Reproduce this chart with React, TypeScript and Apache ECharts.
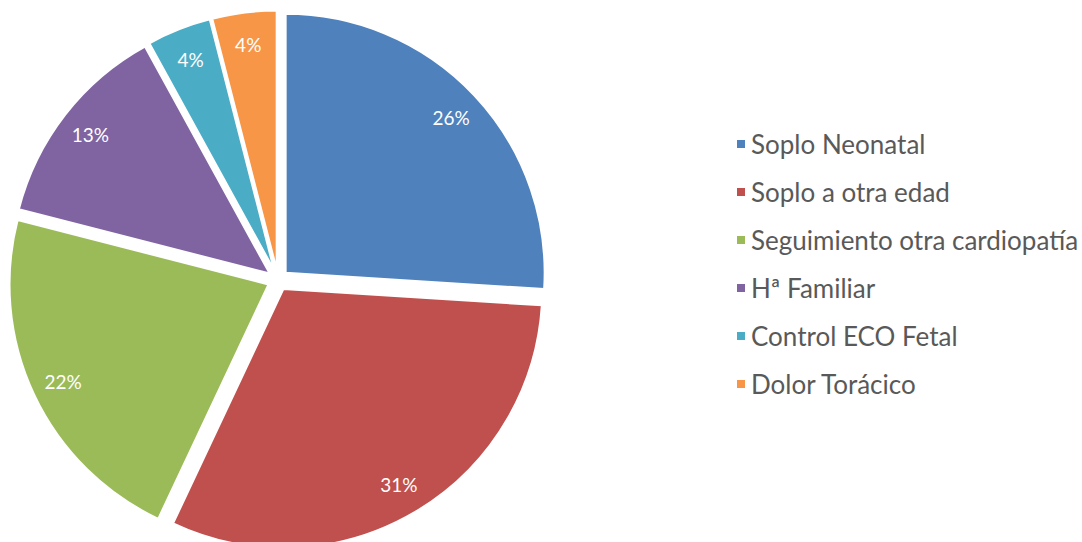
import React, { useEffect, useRef } from "react";
import * as echarts from "echarts";

const categories = [
  "Soplo Neonatal",
  "Soplo a otra edad",
  "Seguimiento otra cardiopatía",
  "Hª Familiar",
  "Control ECO Fetal",
  "Dolor Torácico",
];
const percentages = [26, 31, 22, 13, 4, 4];
const colors = ["#4F81BD", "#C0504D", "#9BBB59", "#8064A2", "#4BACC6", "#F79646"];

const CENTER = [278, 280];
const R = 259;
const OFFSET = 10.5;
const FONT = "Lato, 'Liberation Sans', sans-serif";

export default function App() {
  const ref = useRef<HTMLDivElement>(null);
  useEffect(() => {
    if (!ref.current) return;
    const chart = echarts.init(ref.current, null, { renderer: "svg" });
    const pieData = categories.map((name, i) => ({
      name,
      value: percentages[i],
      selected: true,
      itemStyle: { color: colors[i] },
    }));
    const labelData = categories.map((name, i) => ({
      name,
      value: percentages[i],
      selected: true,
    }));
    chart.setOption({
      animation: false,
      legend: {
        orient: "vertical",
        left: 730,
        top: 124,
        icon: "rect",
        itemWidth: 10,
        itemHeight: 10,
        itemGap: 18,
        selectedMode: false,
        data: categories.map((name, i) => ({ name, itemStyle: { color: colors[i] } })),
        textStyle: {
          fontFamily: FONT,
          fontSize: 26,
          lineHeight: 30,
          color: "#595959",
          padding: [0, 0, 0, 0],
        },
      },
      series: [
        {
          type: "pie",
          center: CENTER,
          radius: [0, R],
          startAngle: 90,
          clockwise: true,
          selectedMode: "multiple",
          selectedOffset: OFFSET,
          silent: true,
          label: { show: false },
          labelLine: { show: false },
          itemStyle: { borderColor: "#ffffff", borderWidth: 2 },
          select: { itemStyle: { borderColor: "#ffffff", borderWidth: 2 } },
          emphasis: { disabled: true },
          data: pieData,
        },
        {
          type: "pie",
          center: CENTER,
          radius: [R - 70, R],
          startAngle: 90,
          clockwise: true,
          selectedMode: "multiple",
          selectedOffset: OFFSET,
          silent: true,
          itemStyle: { color: "rgba(0,0,0,0)", borderWidth: 0 },
          select: { itemStyle: { color: "rgba(0,0,0,0)", borderWidth: 0 } },
          emphasis: { disabled: true },
          labelLine: { show: false },
          label: {
            show: true,
            position: "inside",
            formatter: "{c}%",
            color: "#ffffff",
            fontFamily: FONT,
            fontSize: 19,
          },
          data: labelData,
        },
      ],
    });
    return () => chart.dispose();
  }, []);
  return (
    <div
      ref={ref}
      style={{ position: "fixed", left: 0, top: 0, width: 1082, height: 542, background: "#ffffff" }}
    />
  );
}
